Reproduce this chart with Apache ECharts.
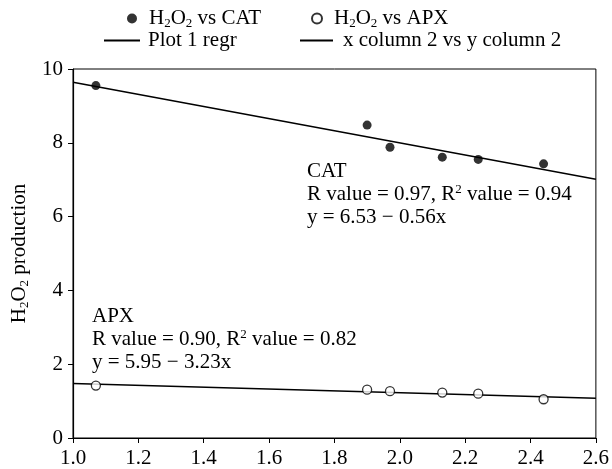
<!DOCTYPE html>
<html>
<head>
<meta charset="utf-8">
<script src="https://cdn.jsdelivr.net/npm/echarts@6/dist/echarts.min.js"></script>
<style>html,body{margin:0;padding:0;background:#fff}#c{width:612px;height:469px}</style>
</head>
<body>
<div id="c"></div>
<script>
// ---- data ----
const catX = [1.07, 1.90, 1.97, 2.13, 2.24, 2.44];
const catY = [9.55, 8.48, 7.88, 7.61, 7.55, 7.43];
const apxX = [1.07, 1.90, 1.97, 2.13, 2.24, 2.44];
const apxY = [1.42, 1.31, 1.27, 1.23, 1.20, 1.05];
const catFitX = [1.0, 2.6];
const catFitY = [9.64, 7.01];
const apxFitX = [1.0, 2.6];
const apxFitY = [1.48, 1.08];
const xMin = 1.0, xMax = 2.6, xStep = 0.2;
const yMin = 0, yMax = 10, yStep = 2;
const seriesNames = ['CAT', 'APX', 'Plot 1 regr', 'x column 2 vs y column 2'];
const catNote = ['CAT', 'R value = 0.97, R{sup|2} value = 0.94', 'y = 6.53 \u2212 0.56x'];
const apxNote = ['APX', 'R value = 0.90, R{sup|2} value = 0.82', 'y = 5.95 \u2212 3.23x'];

const FONT = 'Liberation Serif';
const FS = 21;
const pair = (xs, ys) => xs.map((x, i) => [x, ys[i]]);
const rich = {
  t: {fontFamily: FONT, fontSize: FS, color: '#000'},
  sub: {fontFamily: FONT, fontSize: 13, color: '#000', padding: [11, 0, 0, 0]},
  sup: {fontFamily: FONT, fontSize: 13, color: '#000', padding: [0, 0, 9, 0]},
  s7: {width: 7}, s3: {width: 3}, s5: {width: 5}
};
const h2o2 = '{t|H}{sub|2}{t|O}{sub|2}';
const legendText = {
  'CAT': '{s7|}' + h2o2 + '{t| vs CAT}',
  'APX': '{s7|}' + h2o2 + '{t| vs APX}',
  'Plot 1 regr': '{s3|}{t|Plot 1 regr}',
  'x column 2 vs y column 2': '{s5|}{t|x column 2 vs y column 2}'
};
function noteText(lines) {
  return lines.map(l => l.split(/(\{sup\|[^}]*\})/).filter(s => s).map(s => s.startsWith('{sup') ? s : '{t|' + s + '}').join('')).join('\n');
}
const legendBase = {
  padding: 0, itemGap: 8,
  formatter: n => legendText[n],
  textStyle: {rich: rich}
};

const chart = echarts.init(document.getElementById('c'));
chart.setOption({
  animation: false,
  backgroundColor: '#fff',
  grid: {left: 73, top: 69, width: 523, height: 369, show: true, borderColor: '#000', borderWidth: 1, backgroundColor: 'transparent'},
  legend: [
    Object.assign({}, legendBase, {data: [{name: seriesNames[0], icon: 'circle'}], left: 127, top: 8, itemWidth: 10, itemHeight: 10}),
    Object.assign({}, legendBase, {data: [{name: seriesNames[1], icon: 'circle'}], left: 311, top: 8, itemWidth: 10, itemHeight: 10}),
    Object.assign({}, legendBase, {data: [{name: seriesNames[2], icon: 'rect'}], left: 104, top: 30, itemWidth: 36, itemHeight: 2}),
    Object.assign({}, legendBase, {data: [{name: seriesNames[3], icon: 'rect'}], left: 300, top: 30, itemWidth: 33, itemHeight: 2})
  ],
  xAxis: {
    type: 'value', min: xMin, max: xMax, interval: xStep,
    axisLine: {lineStyle: {color: '#000', width: 1.2}},
    axisTick: {length: 5, lineStyle: {color: '#000'}},
    axisLabel: {color: '#000', fontFamily: FONT, fontSize: FS, margin: 10, formatter: v => v.toFixed(1)},
    splitLine: {show: false}
  },
  yAxis: {
    type: 'value', min: yMin, max: yMax, interval: yStep,
    name: '{t|H}{sub|2}{t|O}{sub|2}{t| production}',
    nameLocation: 'middle', nameRotate: 90, nameGap: 39,
    nameTextStyle: {rich: rich},
    axisLine: {lineStyle: {color: '#000', width: 1.2}},
    axisTick: {length: 5, lineStyle: {color: '#000'}},
    axisLabel: {color: '#000', fontFamily: FONT, fontSize: FS, margin: 10},
    splitLine: {show: false}
  },
  series: [
    {name: seriesNames[0], type: 'scatter', data: pair(catX, catY), symbol: 'circle', symbolSize: 9,
     itemStyle: {color: '#000'}, z: 5},
    {name: seriesNames[1], type: 'scatter', data: pair(apxX, apxY), symbol: 'circle', symbolSize: 9,
     itemStyle: {color: '#fff', borderColor: '#000', borderWidth: 1.3}, z: 5},
    {name: seriesNames[2], type: 'line', data: pair(catFitX, catFitY), symbol: 'none',
     lineStyle: {color: '#000', width: 1.5}, itemStyle: {color: '#000'}},
    {name: seriesNames[3], type: 'line', data: pair(apxFitX, apxFitY), symbol: 'none',
     lineStyle: {color: '#000', width: 1.5}, itemStyle: {color: '#000'}}
  ],
  graphic: [
    {type: 'text', left: 307, top: 160, z: 10, style: {text: noteText(catNote), rich: rich, lineHeight: 23, fill: '#000', font: FS + 'px ' + FONT}},
    {type: 'text', left: 92, top: 305, z: 10, style: {text: noteText(apxNote), rich: rich, lineHeight: 23, fill: '#000', font: FS + 'px ' + FONT}}
  ]
});
</script>
</body>
</html>
